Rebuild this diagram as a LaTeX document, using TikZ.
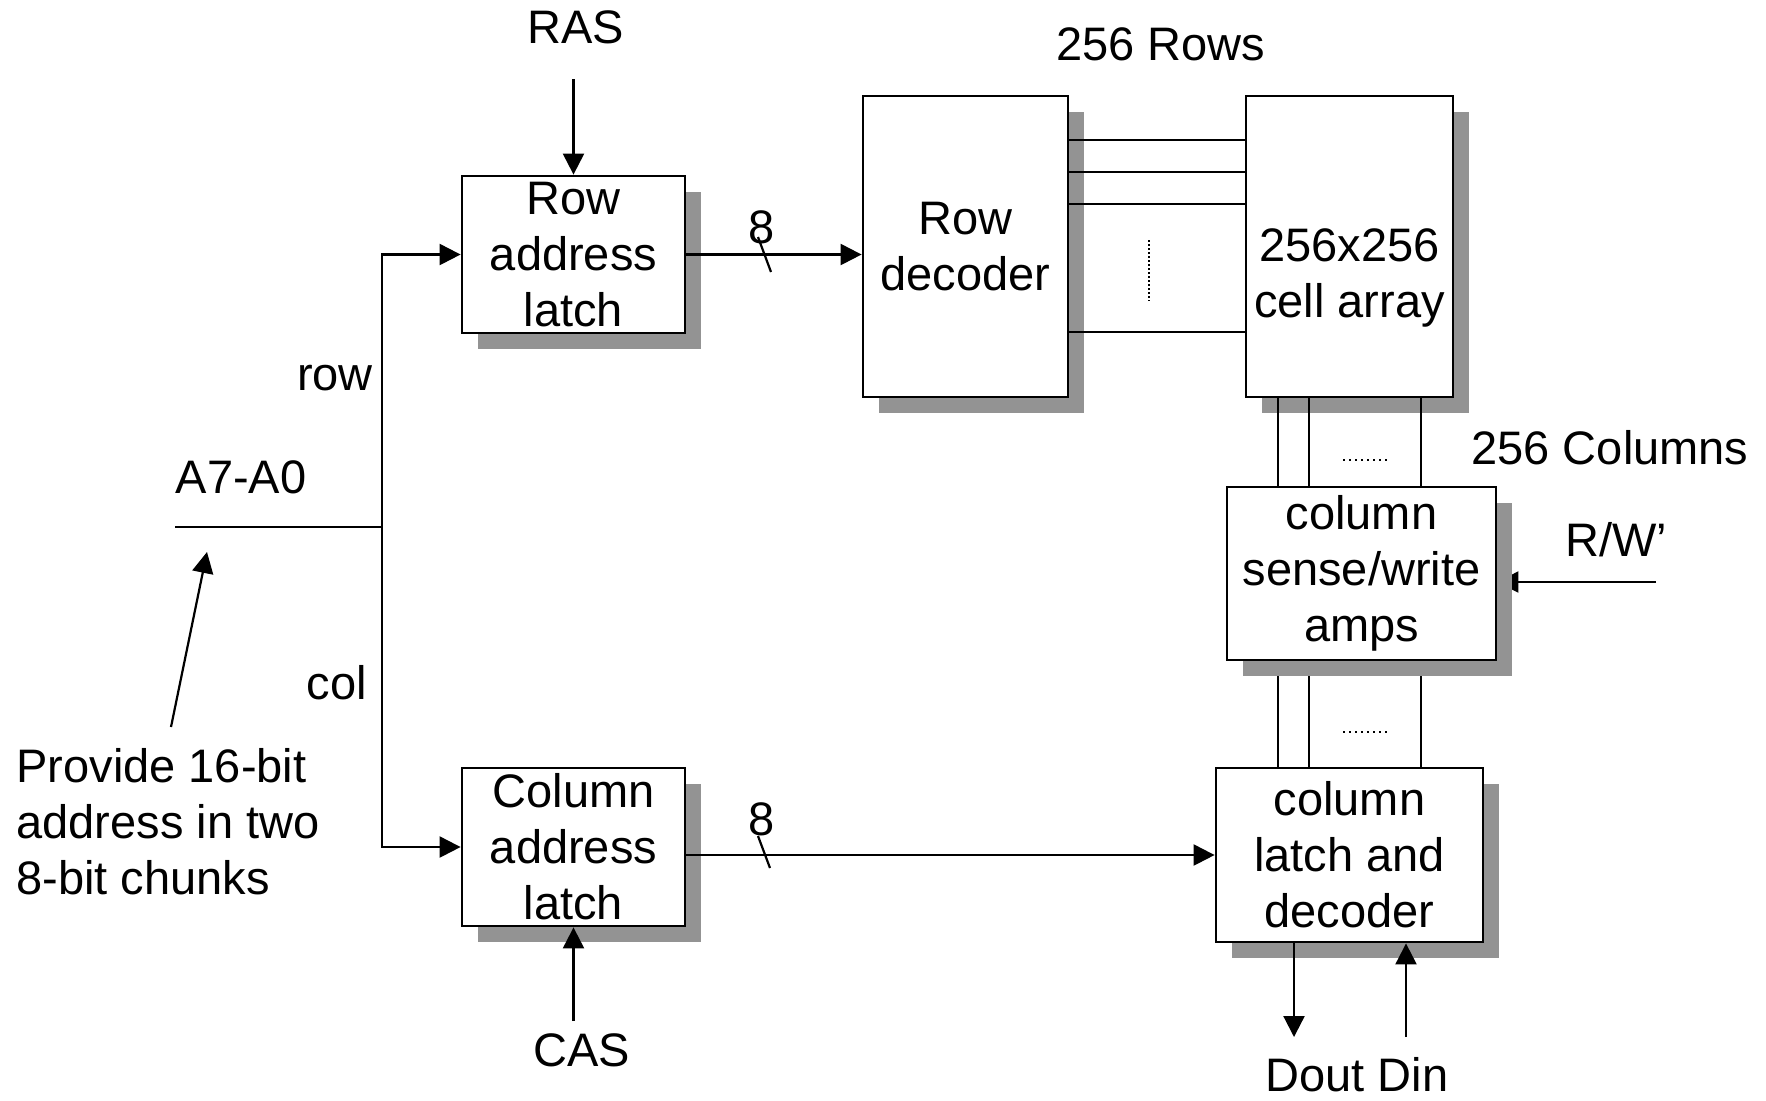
\documentclass[tikz,border=0pt]{standalone}
\usepackage{fontspec}
\setmainfont{Liberation Sans}
\usetikzlibrary{
  arrows.meta,
  shadows,
  backgrounds
}
\definecolor{shade}{RGB}{147,147,147}

\begin{document}
\begin{tikzpicture}[
  x=0.5pt, y=-0.5pt,
  every node/.style={font=\fontsize{23.5pt}{28pt}\selectfont, inner sep=0pt},
  blk/.style={draw, fill=white, line width=1.4pt, align=center,
              drop shadow={shadow xshift=8pt, shadow yshift=-8pt,
                           opacity=1, fill=shade}},
  wire/.style={line width=1.1pt},
  >={Triangle[length=10.5pt, width=10.5pt]}
]
\useasboundingbox (0,0) rectangle (1766,1100);

% Blocks
\node[blk, minimum width=111.5pt, minimum height=78.5pt]
  (rowlatch) at (573.5, 254.5) {Row\\address\\latch};
\node[blk, minimum width=111.5pt, minimum height=79pt]
  (collatch) at (573.5, 847) {Column\\address\\latch};
\node[blk, minimum width=102.5pt, minimum height=150.5pt]
  (rowdec) at (965.5, 246.5) {Row\\decoder};
\node[blk, minimum width=103.5pt, minimum height=150.5pt, text height=76pt]
  (cells) at (1349.5, 246.5) {256x256\\cell array};
\node[blk, minimum width=134.5pt, minimum height=86.5pt]
  (sense) at (1361.5, 573.5) {column\\sense/write\\amps};
\node[blk, minimum width=133.5pt, minimum height=87pt]
  (coldec) at (1349.5, 855) {column\\latch and\\decoder};

% Labels
\node (ras) at (576, 27) {RAS};
\node (cas) at (582, 1050) {CAS};
\node (rows) at (1161, 44) {256 Rows};
\node (cols) at (1610, 448) {256 Columns};
\node (rw) at (1616, 540) {R/W’};
\node (dio) at (1357, 1075) {Dout Din};
\node (addr) at (241, 477.5) {A7-A0};
\node (rowlbl) at (335, 378) {row};
\node (collbl) at (337, 683) {col};
\node (w8r) at (762, 227) {8};
\node (w8c) at (762, 819) {8};
\node[anchor=north west, align=left] (note) at (16, 748)
  {Provide 16-bit\\address in two\\8-bit chunks};

\coordinate (tap) at (382, 527);
\coordinate (busin) at (175, 527);
\coordinate (rasin) at (573.5, 79);
\coordinate (casin) at (573.5, 1021);
\coordinate (rwin) at (1656, 582);
\coordinate (dout) at (1294, 1037);
\coordinate (din) at (1406, 1037);
\coordinate (notefrom) at (171, 727);
\coordinate (notetip) at (207, 552);

% Address bus
\draw[wire] (busin) -- (tap);
\draw[wire, <->] (rowlatch.west) -| (tap) |- (collatch.west);
\draw[wire, ->] (notefrom) -- (notetip);

\draw[wire, ->] (rasin) -- (rowlatch.north);
\draw[wire, ->] (casin) -- (collatch.south);

% 8-bit buses
\draw[wire, ->] (rowlatch.east) -- (rowlatch.east -| rowdec.west);
\draw[wire, ->] (collatch.east |- coldec.west) -- (coldec.west);
\draw[wire] (758, 237) -- (771, 272);
\draw[wire] (758, 836) -- (770, 868);

% Word lines
\foreach \y in {140, 172, 204, 332} {
  \draw[wire] (rowdec.east |- 0,\y) -- (cells.west |- 0,\y);
}
\draw[wire, dash pattern=on 1pt off 1pt] (1149, 240) -- (1149, 301);

% Bit lines
\foreach \x in {1278, 1309, 1421} {
  \draw[wire] (\x,0 |- cells.south) -- (\x,0 |- sense.north);
}
\draw[wire, dash pattern=on 1pt off 2pt] (1343, 460) -- (1389, 460);
\draw[wire, dash pattern=on 1pt off 2pt] (1343, 732) -- (1389, 732);

\begin{scope}[on background layer]
  \foreach \x in {1278, 1309, 1421} {
    \draw[wire] (\x,0 |- sense.south) -- (\x,0 |- coldec.north);
  }
  \draw[wire, ->] (rwin) -- (rwin -| sense.east);
\end{scope}

% Data in/out
\draw[wire, ->] (coldec.south -| dout) -- (dout);
\draw[wire, ->] (din) -- (din |- coldec.south);

\end{tikzpicture}
\end{document}
